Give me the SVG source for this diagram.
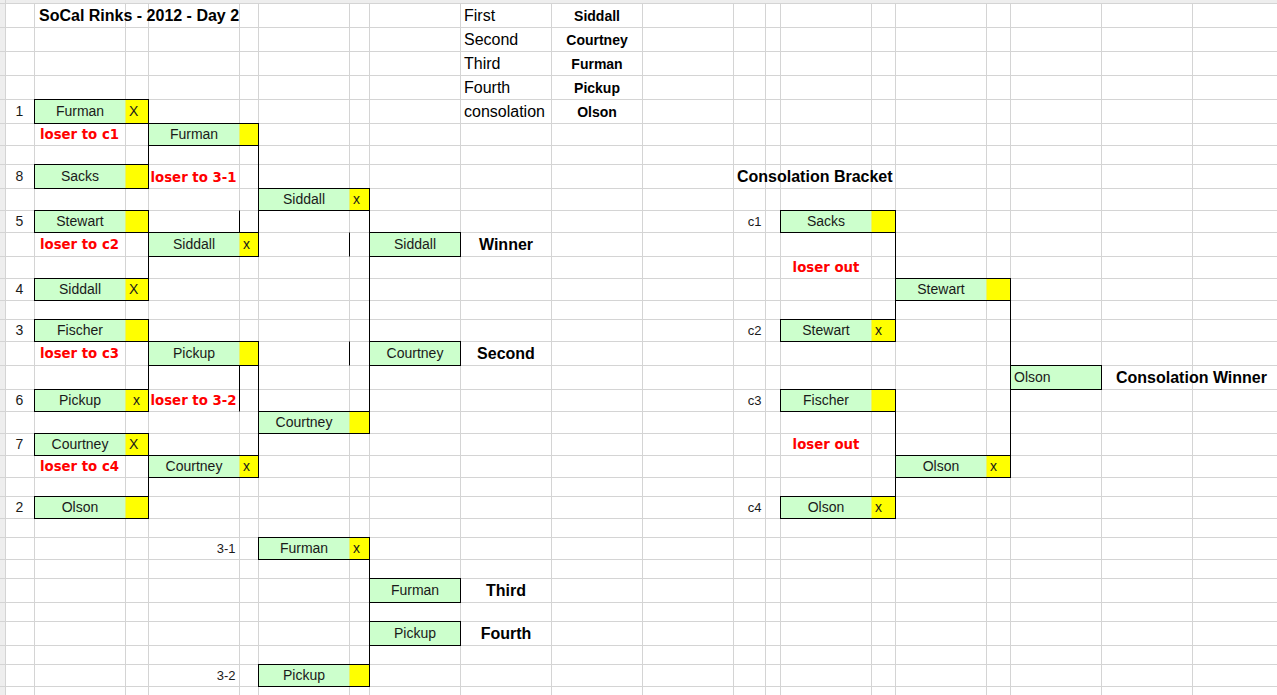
<svg xmlns="http://www.w3.org/2000/svg" width="1277" height="695" viewBox="0 0 1277 695">
<style>
.gl{stroke:#d4d4d4;stroke-width:1;fill:none}
.g{fill:#ccffcc}
.y{fill:#ffff00}
.o{fill:none;stroke:#000;stroke-width:1}
.c{fill:none;stroke:#000;stroke-width:1}
.n{font-family:"Liberation Sans",Arial,sans-serif;font-size:14px;fill:#1a1a1a;text-anchor:middle}
.s{font-family:"Liberation Sans",Arial,sans-serif;font-size:14px;fill:#1a1a1a}
.r{font-family:"Liberation Sans",Arial,sans-serif;font-size:13px;fill:#1a1a1a;text-anchor:end}
.red{font-family:"DejaVu Sans",Verdana,sans-serif;font-weight:bold;font-size:13.3px;fill:#ff0000;text-anchor:middle}
.h{font-family:"Liberation Sans",Arial,sans-serif;font-weight:bold;font-size:16px;fill:#000}
.hc{font-family:"Liberation Sans",Arial,sans-serif;font-weight:bold;font-size:16px;fill:#000;text-anchor:middle}
.t{font-family:"Liberation Sans",Arial,sans-serif;font-size:16px;fill:#000}
.tb{font-family:"Liberation Sans",Arial,sans-serif;font-weight:bold;font-size:14px;fill:#000;text-anchor:middle}
</style>
<rect width="1277" height="695" fill="#fff"/>
<g id="grid">
<rect x="0" y="0" width="1277" height="3" fill="#eeeeee"/>
<rect x="0" y="0" width="5" height="695" fill="#eeeeee"/>
<path class="gl" d="M5.5 0V695M34.5 3V695M125.5 3V695M148.5 3V695M239.5 3V695M258.5 3V695M349.5 3V695M369.5 3V695M460.5 3V695M551.5 3V695M642.5 3V695M733.5 3V695M765.5 3V695M780.5 3V695M871.5 3V695M895.5 3V695M986.5 3V695M1010.5 3V695M1101.5 3V695M1192.5 3V695"/>
<path class="gl" d="M0 3.5H1277M0 27.5H1277M0 51.5H1277M0 75.5H1277M0 99.5H1277M0 123.5H1277M0 145.5H1277M0 164.5H1277M0 188.5H1277M0 210.5H1277M0 232.5H1277M0 256.5H1277M0 278.5H1277M0 300.5H1277M0 319.5H1277M0 341.5H1277M0 365.5H1277M0 389.5H1277M0 411.5H1277M0 433.5H1277M0 455.5H1277M0 477.5H1277M0 496.5H1277M0 518.5H1277M0 537.5H1277M0 559.5H1277M0 578.5H1277M0 602.5H1277M0 621.5H1277M0 645.5H1277M0 664.5H1277M0 686.5H1277"/>
</g>
<g id="labels">
<text class="h" x="39" y="21">SoCal Rinks - 2012 - Day 2</text>
<text class="t" x="464" y="21">First</text>
<text class="t" x="464" y="45">Second</text>
<text class="t" x="464" y="69">Third</text>
<text class="t" x="464" y="93">Fourth</text>
<text class="t" x="464" y="117">consolation</text>
<text class="tb" x="597" y="21">Siddall</text>
<text class="tb" x="597" y="45">Courtney</text>
<text class="tb" x="597" y="69">Furman</text>
<text class="tb" x="597" y="93">Pickup</text>
<text class="tb" x="597" y="117">Olson</text>
<text class="n" x="19.5" y="116">1</text>
<text class="n" x="19.5" y="181">8</text>
<text class="n" x="19.5" y="226">5</text>
<text class="n" x="19.5" y="294">4</text>
<text class="n" x="19.5" y="335">3</text>
<text class="n" x="19.5" y="405">6</text>
<text class="n" x="19.5" y="449">7</text>
<text class="n" x="19.5" y="512">2</text>
<text class="r" x="235.5" y="553">3-1</text>
<text class="r" x="235.5" y="680">3-2</text>
<text class="r" x="761.5" y="226">c1</text>
<text class="r" x="761.5" y="335">c2</text>
<text class="r" x="761.5" y="405">c3</text>
<text class="r" x="761.5" y="512">c4</text>
<text class="red" x="79.5" y="139">loser to c1</text>
<text class="red" x="193.5" y="182">loser to 3-1</text>
<text class="red" x="79.5" y="249">loser to c2</text>
<text class="red" x="79.5" y="358">loser to c3</text>
<text class="red" x="193.5" y="405">loser to 3-2</text>
<text class="red" x="79.5" y="471">loser to c4</text>
<text class="red" x="826" y="272">loser out</text>
<text class="red" x="826" y="449">loser out</text>
<text class="hc" x="506" y="250">Winner</text>
<text class="hc" x="506" y="359">Second</text>
<text class="hc" x="506" y="596">Third</text>
<text class="hc" x="506" y="639">Fourth</text>
<text class="h" x="737" y="182">Consolation Bracket</text>
<text class="h" x="1116" y="383">Consolation Winner</text>
</g>
<g id="connectors">
<path class="c" d="M148.5 99.5V188.5M148.5 210.5V300.5M148.5 319.5V411.5M148.5 433.5V518.5M258.5 123.5V256.5M258.5 341.5V477.5M369.5 188.5V433.5M369.5 537.5V686.5M239.5 210.5V232.5M239.5 365.5V411.5M349.5 232.5V256.5M349.5 341.5V365.5M895.5 210.5V341.5M895.5 389.5V518.5M1010.5 278.5V477.5"/>
</g>
<g id="r1-furman"><rect class="g" x="34.5" y="99.5" width="91" height="24"/><rect class="y" x="125.5" y="99.5" width="23" height="24"/><rect class="o" x="34.5" y="99.5" width="114" height="24"/><text class="n" x="80" y="116">Furman</text><text class="s" x="129" y="116">X</text></g>
<g id="r1-sacks"><rect class="g" x="34.5" y="164.5" width="91" height="24"/><rect class="y" x="125.5" y="164.5" width="23" height="24"/><rect class="o" x="34.5" y="164.5" width="114" height="24"/><text class="n" x="80" y="181">Sacks</text></g>
<g id="r1-stewart"><rect class="g" x="34.5" y="210.5" width="91" height="22"/><rect class="y" x="125.5" y="210.5" width="23" height="22"/><rect class="o" x="34.5" y="210.5" width="114" height="22"/><text class="n" x="80" y="226">Stewart</text></g>
<g id="r1-siddall"><rect class="g" x="34.5" y="278.5" width="91" height="22"/><rect class="y" x="125.5" y="278.5" width="23" height="22"/><rect class="o" x="34.5" y="278.5" width="114" height="22"/><text class="n" x="80" y="294">Siddall</text><text class="s" x="129" y="294">X</text></g>
<g id="r1-fischer"><rect class="g" x="34.5" y="319.5" width="91" height="22"/><rect class="y" x="125.5" y="319.5" width="23" height="22"/><rect class="o" x="34.5" y="319.5" width="114" height="22"/><text class="n" x="80" y="335">Fischer</text></g>
<g id="r1-pickup"><rect class="g" x="34.5" y="389.5" width="91" height="22"/><rect class="y" x="125.5" y="389.5" width="23" height="22"/><rect class="o" x="34.5" y="389.5" width="114" height="22"/><text class="n" x="80" y="405">Pickup</text><text class="s" x="133" y="405">x</text></g>
<g id="r1-courtney"><rect class="g" x="34.5" y="433.5" width="91" height="22"/><rect class="y" x="125.5" y="433.5" width="23" height="22"/><rect class="o" x="34.5" y="433.5" width="114" height="22"/><text class="n" x="80" y="449">Courtney</text><text class="s" x="129" y="449">X</text></g>
<g id="r1-olson"><rect class="g" x="34.5" y="496.5" width="91" height="22"/><rect class="y" x="125.5" y="496.5" width="23" height="22"/><rect class="o" x="34.5" y="496.5" width="114" height="22"/><text class="n" x="80" y="512">Olson</text></g>
<g id="r2-furman"><rect class="g" x="148.5" y="123.5" width="91" height="22"/><rect class="y" x="239.5" y="123.5" width="19" height="22"/><rect class="o" x="148.5" y="123.5" width="110" height="22"/><text class="n" x="194" y="139">Furman</text></g>
<g id="r2-siddall"><rect class="g" x="148.5" y="232.5" width="91" height="24"/><rect class="y" x="239.5" y="232.5" width="19" height="24"/><rect class="o" x="148.5" y="232.5" width="110" height="24"/><text class="n" x="194" y="249">Siddall</text><text class="s" x="243" y="249">x</text></g>
<g id="r2-pickup"><rect class="g" x="148.5" y="341.5" width="91" height="24"/><rect class="y" x="239.5" y="341.5" width="19" height="24"/><rect class="o" x="148.5" y="341.5" width="110" height="24"/><text class="n" x="194" y="358">Pickup</text></g>
<g id="r2-courtney"><rect class="g" x="148.5" y="455.5" width="91" height="22"/><rect class="y" x="239.5" y="455.5" width="19" height="22"/><rect class="o" x="148.5" y="455.5" width="110" height="22"/><text class="n" x="194" y="471">Courtney</text><text class="s" x="243" y="471">x</text></g>
<g id="r3-siddall"><rect class="g" x="258.5" y="188.5" width="91" height="22"/><rect class="y" x="349.5" y="188.5" width="20" height="22"/><rect class="o" x="258.5" y="188.5" width="111" height="22"/><text class="n" x="304" y="204">Siddall</text><text class="s" x="353" y="204">x</text></g>
<g id="r3-courtney"><rect class="g" x="258.5" y="411.5" width="91" height="22"/><rect class="y" x="349.5" y="411.5" width="20" height="22"/><rect class="o" x="258.5" y="411.5" width="111" height="22"/><text class="n" x="304" y="427">Courtney</text></g>
<g id="final-siddall"><rect class="g" x="369.5" y="232.5" width="91" height="24"/><rect class="o" x="369.5" y="232.5" width="91" height="24"/><text class="n" x="415" y="249">Siddall</text></g>
<g id="final-courtney"><rect class="g" x="369.5" y="341.5" width="91" height="24"/><rect class="o" x="369.5" y="341.5" width="91" height="24"/><text class="n" x="415" y="358">Courtney</text></g>
<g id="p31-furman"><rect class="g" x="258.5" y="537.5" width="91" height="22"/><rect class="y" x="349.5" y="537.5" width="20" height="22"/><rect class="o" x="258.5" y="537.5" width="111" height="22"/><text class="n" x="304" y="553">Furman</text><text class="s" x="353" y="553">x</text></g>
<g id="p32-pickup"><rect class="g" x="258.5" y="664.5" width="91" height="22"/><rect class="y" x="349.5" y="664.5" width="20" height="22"/><rect class="o" x="258.5" y="664.5" width="111" height="22"/><text class="n" x="304" y="680">Pickup</text></g>
<g id="third-furman"><rect class="g" x="369.5" y="578.5" width="91" height="24"/><rect class="o" x="369.5" y="578.5" width="91" height="24"/><text class="n" x="415" y="595">Furman</text></g>
<g id="fourth-pickup"><rect class="g" x="369.5" y="621.5" width="91" height="24"/><rect class="o" x="369.5" y="621.5" width="91" height="24"/><text class="n" x="415" y="638">Pickup</text></g>
<g id="c1-sacks"><rect class="g" x="780.5" y="210.5" width="91" height="22"/><rect class="y" x="871.5" y="210.5" width="24" height="22"/><rect class="o" x="780.5" y="210.5" width="115" height="22"/><text class="n" x="826" y="226">Sacks</text></g>
<g id="c2-stewart"><rect class="g" x="780.5" y="319.5" width="91" height="22"/><rect class="y" x="871.5" y="319.5" width="24" height="22"/><rect class="o" x="780.5" y="319.5" width="115" height="22"/><text class="n" x="826" y="335">Stewart</text><text class="s" x="875" y="335">x</text></g>
<g id="c3-fischer"><rect class="g" x="780.5" y="389.5" width="91" height="22"/><rect class="y" x="871.5" y="389.5" width="24" height="22"/><rect class="o" x="780.5" y="389.5" width="115" height="22"/><text class="n" x="826" y="405">Fischer</text></g>
<g id="c4-olson"><rect class="g" x="780.5" y="496.5" width="91" height="22"/><rect class="y" x="871.5" y="496.5" width="24" height="22"/><rect class="o" x="780.5" y="496.5" width="115" height="22"/><text class="n" x="826" y="512">Olson</text><text class="s" x="875" y="512">x</text></g>
<g id="cs-stewart"><rect class="g" x="895.5" y="278.5" width="91" height="22"/><rect class="y" x="986.5" y="278.5" width="24" height="22"/><rect class="o" x="895.5" y="278.5" width="115" height="22"/><text class="n" x="941" y="294">Stewart</text></g>
<g id="cs-olson"><rect class="g" x="895.5" y="455.5" width="91" height="22"/><rect class="y" x="986.5" y="455.5" width="24" height="22"/><rect class="o" x="895.5" y="455.5" width="115" height="22"/><text class="n" x="941" y="471">Olson</text><text class="s" x="990" y="471">x</text></g>
<g id="cw-olson"><rect class="g" x="1010.5" y="365.5" width="91" height="24"/><rect class="o" x="1010.5" y="365.5" width="91" height="24"/><text class="s" x="1014" y="382">Olson</text></g>
</svg>
